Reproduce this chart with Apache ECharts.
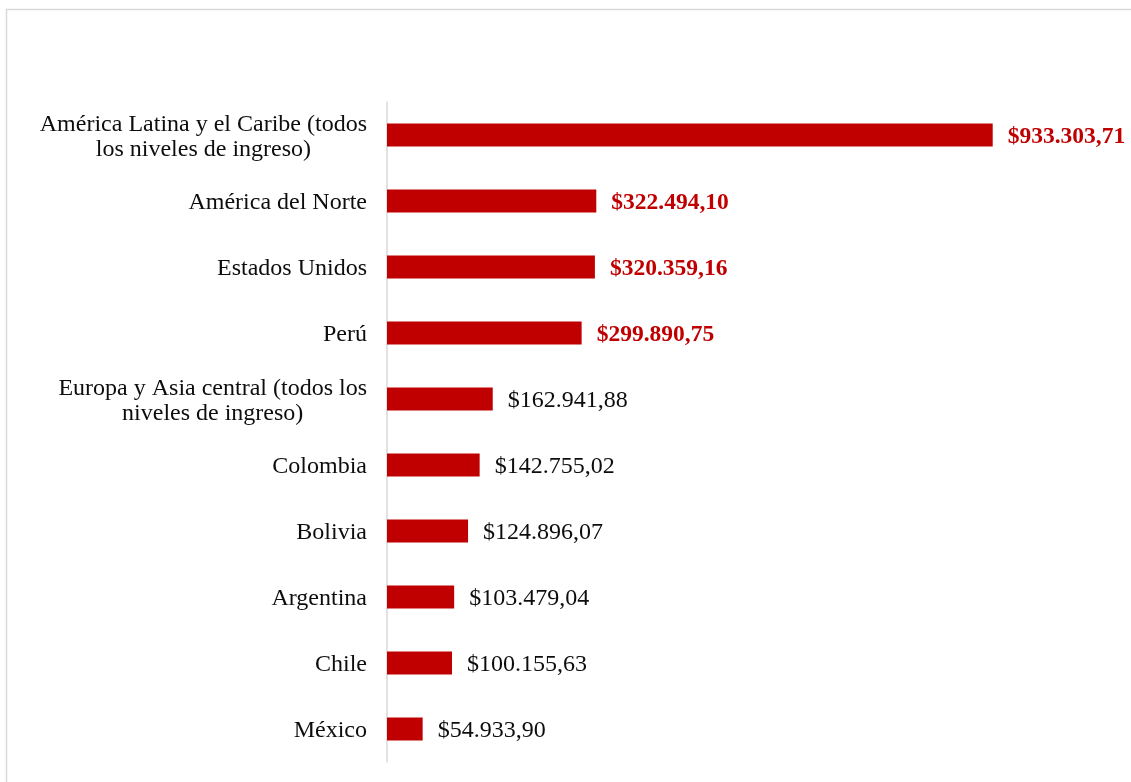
<!DOCTYPE html>
<html>
<head>
<meta charset="utf-8">
<script src="https://cdn.jsdelivr.net/npm/echarts@6/dist/echarts.min.js"></script>
<style>
  html, body { margin: 0; padding: 0; background: #fff; }
  #chart { width: 1131px; height: 782px; }
</style>
</head>
<body>
<div id="chart"></div>
<script>
// Regions / countries, top to bottom
const categories = [
  'América Latina y el Caribe (todos\nlos niveles de ingreso)',
  'América del Norte',
  'Estados Unidos',
  'Perú',
  'Europa y Asia central (todos los\nniveles de ingreso)',
  'Colombia',
  'Bolivia',
  'Argentina',
  'Chile',
  'México'
];
// Amount in dollars for each entry
const values = [933303.71, 322494.10, 320359.16, 299890.75, 162941.88, 142755.02, 124896.07, 103479.04, 100155.63, 54933.90];
// Entries whose value label is emphasised
const emphasised = [true, true, true, true, false, false, false, false, false, false];

const RED = '#C00000';
const FONT = "'Liberation Serif', 'Times New Roman', serif";

function money(v) {
  const parts = v.toFixed(2).split('.');
  const intPart = parts[0].replace(/\B(?=(\d{3})+(?!\d))/g, '.');
  return '$' + intPart + ',' + parts[1];
}

const chart = echarts.init(document.getElementById('chart'), null, { renderer: 'canvas' });

chart.setOption({
  animation: false,
  backgroundColor: '#ffffff',
  graphic: [{
    type: 'rect',
    shape: { x: 6.5, y: 9.5, width: 1200, height: 800 },
    style: { fill: 'none', stroke: '#d9d9d9', lineWidth: 1.5 },
    silent: true
  }],
  grid: { left: 387, right: 95, top: 102, height: 660, containLabel: false },
  xAxis: {
    type: 'value',
    min: 0,
    max: 1000000,
    show: false
  },
  yAxis: {
    type: 'category',
    inverse: true,
    data: categories,
    axisLine: { show: true, lineStyle: { color: '#d9d9d9', width: 1.5 } },
    axisTick: { show: false },
    splitLine: { show: false },
    axisLabel: {
      margin: 20,
      fontFamily: FONT,
      fontSize: 24,
      lineHeight: 25,
      color: '#0d0d0d',
      align: 'right',
      padding: [4, 0, 0, 0],
      // multi-line names are centred line by line inside their block
      formatter: v => v.indexOf('\n') < 0 ? v : v.split('\n').map(l => '{c|' + l + '}').join('\n'),
      rich: {
        c: { align: 'center', fontFamily: FONT, fontSize: 24, lineHeight: 25, color: '#0d0d0d' }
      }
    }
  },
  series: [{
    type: 'bar',
    barWidth: 23,
    data: values.map((v, i) => ({
      value: v,
      label: emphasised[i]
        ? { color: RED, fontWeight: 'bold', fontSize: 23.5 }
        : { color: '#0d0d0d', fontWeight: 'normal', fontSize: 24 }
    })),
    itemStyle: { color: RED },
    label: {
      show: true,
      position: 'right',
      distance: 15,
      offset: [0, 2],
      fontFamily: FONT,
      formatter: p => money(p.value)
    }
  }]
});
</script>
</body>
</html>
